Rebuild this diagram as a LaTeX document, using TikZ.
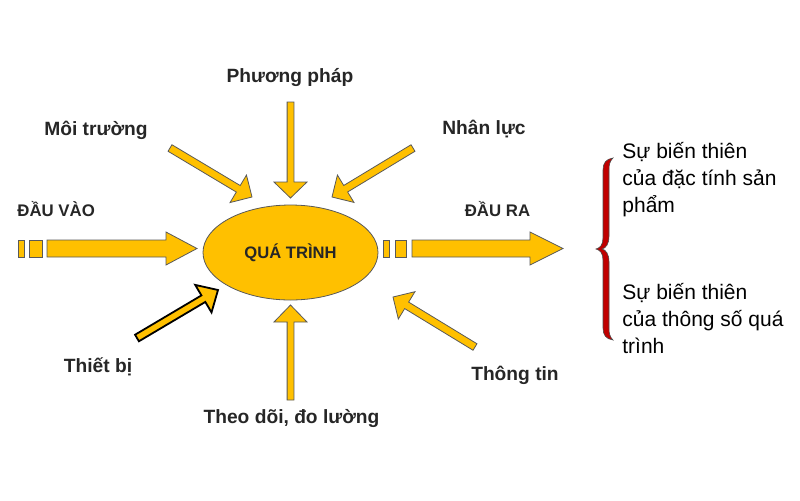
\documentclass[tikz,border=0pt]{standalone}
\usepackage{fontspec}
\setmainfont{Liberation Sans}
\usetikzlibrary{shapes.geometric,calc}

\definecolor{vang}{RGB}{255,192,0}
\definecolor{dongoac}{RGB}{192,0,0}

\tikzset{
  khoi/.style={fill=vang, draw=black!65, line width=0.4pt},
  khoiden/.style={fill=vang, draw=black, line width=0.9pt},
  nhan/.style={font=\bfseries\fontsize{9.6}{11}\selectfont, text=black!85, anchor=base, inner sep=0pt},
  nhanhoa/.style={font=\bfseries\fontsize{8.4}{10}\selectfont, text=black!85, anchor=base, inner sep=0pt},
  chu/.style={font=\fontsize{10.5}{13.4}\selectfont, align=left, anchor=base west, inner sep=0pt}
}

% mui ten khoi: duoi, dau, nua than, nua dau, dai dau, kieu
\newcommand{\muiten}[6]{%
  \coordinate (mt-m) at ($(#2)!#5!(#1)$);
  \draw[#6] ($(#1)!#3!90:(#2)$) -- ($(mt-m)!#3!90:(#2)$) -- ($(mt-m)!#4!90:(#2)$) -- (#2)
    -- ($(mt-m)!#4!-90:(#2)$) -- ($(mt-m)!#3!-90:(#2)$) -- ($(#1)!#3!-90:(#2)$) -- cycle;
}

\begin{document}
\begin{tikzpicture}[x=0.5pt,y=-0.5pt]
  \useasboundingbox (0,0) rectangle (800,500);

  \node[khoi, ellipse, minimum width=87.5pt, minimum height=47.5pt, inner sep=0pt,
        font=\bfseries\fontsize{8.3}{10}\selectfont, text=black!85] (qt) at (290.5,252.5) {QUÁ TRÌNH};

  \node[nhan] (pp) at (290,82) {Phương pháp};
  \node[nhan] (mt) at (96,135) {Môi trường};
  \node[nhan] (nl) at (484,134) {Nhân lực};
  \node[nhanhoa, anchor=base west] (vao) at (17,216) {ĐẦU VÀO};
  \node[nhanhoa] (ra) at (497.5,216) {ĐẦU RA};
  \node[nhan] (tb) at (98,372) {Thiết bị};
  \node[nhan] (td) at (291.5,423) {Theo dõi, đo lường};
  \node[nhan] (tt) at (515,380) {Thông tin};

  \coordinate (pp-a) at (290.5,102);  \coordinate (pp-b) at (290.5,198);
  \coordinate (mt-a) at (170,148);    \coordinate (mt-b) at (252,197);
  \coordinate (nl-a) at (413,148);    \coordinate (nl-b) at (332,197);
  \coordinate (tb-a) at (137,338);    \coordinate (tb-b) at (218,290);
  \coordinate (td-a) at (290.5,400);  \coordinate (td-b) at (290.5,305);
  \coordinate (tt-a) at (475,347);    \coordinate (tt-b) at (393,297);
  \coordinate (vao-a) at (47,248.5);  \coordinate (vao-b) at (197,248.5);
  \coordinate (ra-a) at (412,248.5);  \coordinate (ra-b) at (563,248.5);

  \muiten{pp-a}{pp-b}{1.7pt}{8.25pt}{8pt}{khoi}
  \muiten{mt-a}{mt-b}{1.9pt}{8pt}{8pt}{khoi}
  \muiten{nl-a}{nl-b}{1.9pt}{8pt}{8pt}{khoi}
  \muiten{tb-a}{tb-b}{1.9pt}{8pt}{8.5pt}{khoiden}
  \muiten{td-a}{td-b}{1.7pt}{8.25pt}{8.5pt}{khoi}
  \muiten{tt-a}{tt-b}{1.9pt}{8pt}{8pt}{khoi}
  \muiten{vao-a}{vao-b}{4.25pt}{8.25pt}{15.5pt}{khoi}
  \muiten{ra-a}{ra-b}{4.25pt}{8.25pt}{16.5pt}{khoi}

  % cac o nho
  \draw[khoi] (18,240) rectangle (24,257);
  \draw[khoi] (29,240) rectangle (42,257);
  \draw[khoi] (383,240) rectangle (389,257);
  \draw[khoi] (395,240) rectangle (406,257);

  % dau ngoac
  \draw[fill=dongoac, draw=black!70, line width=0.3pt]
    (613,158) .. controls (606,159) and (603,163) .. (603,170) -- (603,238)
    .. controls (603,245) and (600,248) .. (596,249)
    .. controls (600,250) and (603,253) .. (603,260) -- (603,328)
    .. controls (603,335) and (606,339) .. (613,340)
    .. controls (610,337) and (609,334) .. (609,328) -- (609,262)
    .. controls (609,254) and (606,250) .. (602,249)
    .. controls (606,248) and (609,244) .. (609,236) -- (609,170)
    .. controls (609,164) and (610,161) .. (613,158) -- cycle;

  \node[chu] (ct1) at (622,212) {Sự biến thiên\\của đặc tính sản\\phẩm};
  \node[chu] (ct2) at (622,353) {Sự biến thiên\\của thông số quá\\trình};
\end{tikzpicture}
\end{document}
